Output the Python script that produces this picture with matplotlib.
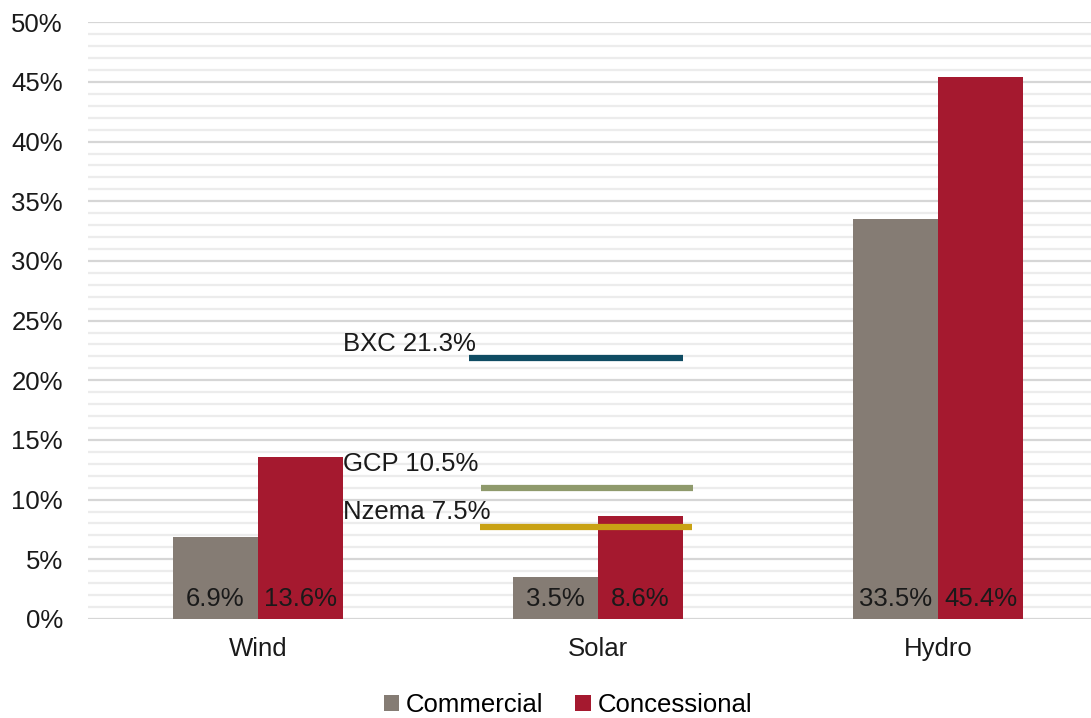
"""Commercial vs concessional returns by technology, with reference project lines."""
import matplotlib.pyplot as plt
from matplotlib.ticker import MultipleLocator, FuncFormatter
import numpy as np

plt.rcParams['font.family'] = ['Liberation Sans', 'DejaVu Sans']

categories = ["Wind", "Solar", "Hydro"]
commercial = [6.9, 3.5, 33.5]
concessional = [13.6, 8.6, 45.4]

# reference projects: label, level as drawn, x-span in category units
ref_names = ["BXC 21.3%", "GCP 10.5%", "Nzema 7.5%"]
ref_levels = [21.9, 11.0, 7.7]
ref_x0 = [0.62, 0.655, 0.652]
ref_x1 = [1.25, 1.28, 1.276]
ref_label_y = [23.0, 13.0, 9.0]
ref_colors = ["#0f4c63", "#8f9a6c", "#c9a214"]

c_comm = "#857c74"
c_conc = "#a5192f"

fig = plt.figure(figsize=(10.91, 7.18), dpi=100)
ax = fig.add_axes([0.0807, 0.138, 0.9193, 0.831])

x = np.arange(len(categories))
w = 0.25
b1 = ax.bar(x - w / 2, commercial, w, color=c_comm, label="Commercial", zorder=2)
b2 = ax.bar(x + w / 2, concessional, w, color=c_conc, label="Concessional", zorder=2)

for bars, vals in ((b1, commercial), (b2, concessional)):
    for rect, v in zip(bars, vals):
        ax.text(rect.get_x() + rect.get_width() / 2, 1.7, f"{v}%",
                ha="center", va="center", fontsize=18.5, color="#1a1a1a", zorder=3)

for name, lvl, xa, xb, ly, col in zip(ref_names, ref_levels, ref_x0, ref_x1,
                                      ref_label_y, ref_colors):
    ax.plot([xa, xb], [lvl, lvl], color=col, lw=4.5, solid_capstyle="butt", zorder=4)
    ax.text(0.25, ly, name, ha="left", va="center", fontsize=18.5, color="#1a1a1a", zorder=5)

ax.set_xlim(-0.5, 2.45)
ax.set_ylim(0, 50)
ax.yaxis.set_major_locator(MultipleLocator(5))
ax.yaxis.set_minor_locator(MultipleLocator(1))
ax.yaxis.set_major_formatter(FuncFormatter(lambda v, p: f"{v:.0f}%"))
ax.grid(axis="y", which="major", color="#d6d6d6", lw=1.6, zorder=0)
ax.grid(axis="y", which="minor", color="#ececec", lw=1.6, zorder=0)
ax.set_axisbelow(True)

ax.set_xticks(x)
ax.set_xticklabels(categories)
ax.tick_params(axis="both", which="both", length=0, labelsize=18.5, colors="#1a1a1a")
ax.tick_params(axis="y", pad=18)
ax.tick_params(axis="x", pad=13)
for s in ax.spines.values():
    s.set_visible(False)

fig.legend(handles=[b1, b2], loc="center", bbox_to_anchor=(568 / 1091, 1 - 705 / 718),
           ncol=2, frameon=False, fontsize=18.5, handlelength=0.6, handleheight=0.6,
           handletextpad=0.25, columnspacing=1.25)

fig.savefig("out.png", dpi=100)
